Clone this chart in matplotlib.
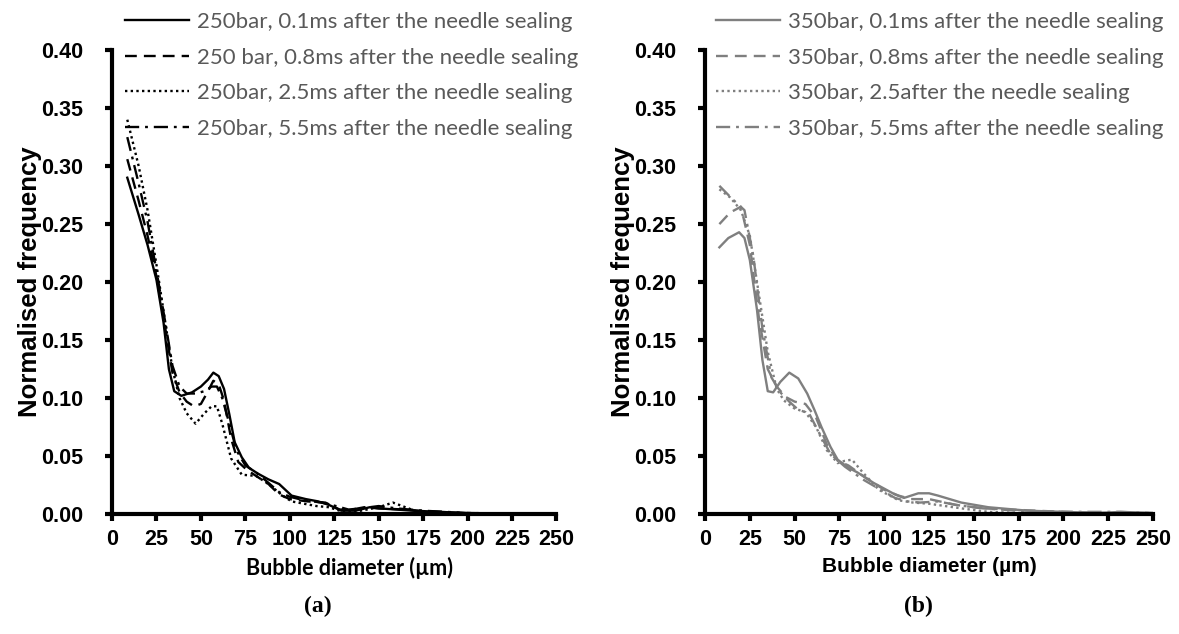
import matplotlib
matplotlib.use("Agg")
import matplotlib.pyplot as plt

# ---- (a) 250 bar, black curves ----
x_a_01 = [8.6, 15, 20, 25, 29, 32, 35, 39, 45, 50, 54, 57, 60, 63, 66, 69, 73, 77, 82, 88, 94,
          101, 109, 116, 122, 129, 137, 145, 150, 160, 169, 185, 197, 210, 250]
y_a_01 = [0.290, 0.258, 0.232, 0.202, 0.165, 0.125, 0.106, 0.102, 0.105, 0.110, 0.116, 0.122, 0.119,
          0.108, 0.086, 0.062, 0.049, 0.040, 0.035, 0.030, 0.026, 0.016, 0.013, 0.011, 0.008, 0.003,
          0.003, 0.006, 0.005, 0.004, 0.003, 0.002, 0.001, 0.0, 0.0]

x_a_08 = [8.6, 15, 20, 25, 30, 34, 38, 42, 46, 50, 54, 57, 60, 63, 67, 71, 76, 82, 88, 94, 100,
          110, 120, 128, 135, 142, 150, 165, 180, 200, 250]
y_a_08 = [0.306, 0.270, 0.240, 0.205, 0.160, 0.122, 0.105, 0.097, 0.093, 0.095, 0.106, 0.115, 0.112,
          0.098, 0.065, 0.045, 0.038, 0.032, 0.026, 0.017, 0.013, 0.011, 0.010, 0.004, 0.004, 0.006,
          0.005, 0.004, 0.002, 0.001, 0.0]

x_a_25 = [8.6, 15, 20, 25, 30, 34, 38, 42, 47, 52, 56, 59, 62, 67, 73, 81, 88, 96, 101, 108, 115,
          122, 130, 140, 150, 158, 165, 172, 185, 200, 250]
y_a_25 = [0.340, 0.300, 0.262, 0.215, 0.165, 0.125, 0.100, 0.087, 0.078, 0.087, 0.093, 0.093, 0.078,
          0.048, 0.034, 0.033, 0.026, 0.016, 0.011, 0.009, 0.007, 0.006, 0.002, 0.003, 0.006, 0.010,
          0.006, 0.002, 0.001, 0.0, 0.0]

x_a_55 = [8.6, 15, 20, 25, 30, 34, 38, 42, 47, 52, 56, 59, 62, 66, 70, 75, 81, 88, 94, 100, 108,
          118, 126, 133, 140, 150, 160, 175, 200, 250]
y_a_55 = [0.325, 0.285, 0.252, 0.210, 0.165, 0.128, 0.110, 0.104, 0.104, 0.106, 0.110, 0.110, 0.100,
          0.078, 0.055, 0.042, 0.036, 0.027, 0.019, 0.015, 0.012, 0.010, 0.007, 0.004, 0.005, 0.007,
          0.005, 0.003, 0.001, 0.0]

# ---- (b) 350 bar, grey curves ----
x_b_01 = [8, 13, 19, 22, 25, 29, 32, 35, 38, 42, 47, 52, 57, 61, 65, 70, 74, 80, 85, 94, 100, 106,
          111, 119, 125, 130, 143, 158, 180, 200, 220, 232, 250]
y_b_01 = [0.230, 0.238, 0.243, 0.238, 0.219, 0.176, 0.133, 0.106, 0.105, 0.114, 0.122, 0.117, 0.104,
          0.090, 0.075, 0.058, 0.047, 0.040, 0.036, 0.027, 0.022, 0.017, 0.014, 0.018, 0.018, 0.016,
          0.010, 0.006, 0.003, 0.002, 0.001, 0.002, 0.001]

x_b_08 = [8, 14, 20, 25, 30, 35, 40, 45, 50, 56, 62, 68, 74, 80, 90, 100, 108, 115, 125, 140, 155,
          170, 185, 200, 225, 250]
y_b_08 = [0.250, 0.260, 0.265, 0.232, 0.170, 0.125, 0.110, 0.101, 0.097, 0.095, 0.083, 0.060, 0.046,
          0.042, 0.031, 0.021, 0.016, 0.013, 0.013, 0.008, 0.005, 0.004, 0.003, 0.002, 0.001, 0.001]

x_b_25 = [8, 14, 20, 25, 30, 35, 40, 44, 50, 56, 62, 68, 74, 78, 82, 88, 97, 108, 116, 125, 143,
          158, 175, 200, 250]
y_b_25 = [0.280, 0.273, 0.262, 0.240, 0.190, 0.140, 0.108, 0.098, 0.091, 0.088, 0.075, 0.055, 0.044,
          0.046, 0.047, 0.036, 0.021, 0.012, 0.010, 0.009, 0.005, 0.002, 0.001, 0.001, 0.0]

x_b_55 = [8, 15, 22, 27, 32, 37, 42, 47, 52, 58, 63, 70, 78, 88, 98, 106, 113, 120, 130, 140, 155,
          175, 200, 230, 250]
y_b_55 = [0.283, 0.272, 0.262, 0.222, 0.160, 0.118, 0.105, 0.097, 0.090, 0.087, 0.072, 0.052, 0.041,
          0.030, 0.021, 0.014, 0.011, 0.010, 0.011, 0.008, 0.005, 0.003, 0.002, 0.002, 0.001]

labels_a = ["250bar, 0.1ms after the needle sealing",
            "250 bar, 0.8ms after the needle sealing",
            "250bar, 2.5ms after the needle sealing",
            "250bar, 5.5ms after the needle sealing"]
labels_b = ["350bar, 0.1ms after the needle sealing",
            "350bar, 0.8ms after the needle sealing",
            "350bar, 2.5after the needle sealing",
            "350bar, 5.5ms after the needle sealing"]

x_ticks = [0, 25, 50, 75, 100, 125, 150, 175, 200, 225, 250]
y_ticks = [0.00, 0.05, 0.10, 0.15, 0.20, 0.25, 0.30, 0.35, 0.40]

styles = ["-", (0, (5, 3)), (0, (1, 1.4)), (0, (6, 2.5, 1.2, 2.5))]
tick_font = {"family": "Liberation Sans", "weight": "bold", "size": 15.5}
legend_font = {"family": "Lato", "size": 16}

fig = plt.figure(figsize=(11.79, 6.34), dpi=100)
ax_a = fig.add_axes([0.0950, 0.189, 0.377, 0.732])
ax_b = fig.add_axes([0.598, 0.189, 0.380, 0.732])

series_a = [(x_a_01, y_a_01), (x_a_08, y_a_08), (x_a_25, y_a_25), (x_a_55, y_a_55)]
series_b = [(x_b_01, y_b_01), (x_b_08, y_b_08), (x_b_25, y_b_25), (x_b_55, y_b_55)]

for ax, series, labels, color in [(ax_a, series_a, labels_a, "black"),
                                  (ax_b, series_b, labels_b, "#7f7f7f")]:
    for (xs, ys), ls, lab in zip(series, styles, labels):
        ax.plot(xs, ys, linestyle=ls, color=color, linewidth=1.7, label=lab)
    ax.set_xlim(0, 250)
    ax.set_ylim(0, 0.40)
    ax.set_xticks(x_ticks)
    ax.set_yticks(y_ticks)
    ax.set_xticklabels([str(t) for t in x_ticks], fontdict=tick_font)
    ax.set_yticklabels([f"{t:.2f}" for t in y_ticks], fontdict=tick_font)
    ax.spines["top"].set_visible(False)
    ax.spines["right"].set_visible(False)
    for s in ["left", "bottom"]:
        ax.spines[s].set_linewidth(3)
    ax.tick_params(axis="x", direction="out", length=5, width=3, pad=6)
    ax.tick_params(axis="y", direction="out", length=5, width=3, pad=16)
    ax.set_ylabel("Normalised frequency", fontfamily="Liberation Sans", fontweight="bold",
                  fontsize=18.5)
    ax.yaxis.set_label_coords(-70 / 445, 0.5)

ax_a.set_xlabel("Bubble diameter (µm)", fontfamily="Lato", fontweight="bold", fontsize=15.5)
ax_a.xaxis.set_label_coords(0.535, -0.092)
ax_b.set_xlabel("Bubble diameter (µm)", fontfamily="Liberation Sans", fontweight="bold", fontsize=15)
ax_b.xaxis.set_label_coords(0.5, -0.092)

leg_kw = dict(frameon=False, prop=legend_font, handlelength=2.9, handletextpad=0.32,
              labelspacing=0.7, loc="upper left", borderaxespad=0, borderpad=0)
la = ax_a.legend(bbox_to_anchor=(125 / 1179, 1 - 12 / 634), bbox_transform=fig.transFigure, **leg_kw)
lb = ax_b.legend(bbox_to_anchor=(716 / 1179, 1 - 12 / 634), bbox_transform=fig.transFigure, **leg_kw)
for leg in (la, lb):
    for t in leg.get_texts():
        t.set_color("#595959")

fig.text(318 / 1179, 1 - 606 / 634, "(a)", ha="center", va="center",
         fontfamily="Liberation Serif", fontweight="bold", fontsize=17)
fig.text(918 / 1179, 1 - 606 / 634, "(b)", ha="center", va="center",
         fontfamily="Liberation Serif", fontweight="bold", fontsize=17)

fig.savefig("out.png", dpi=100)
